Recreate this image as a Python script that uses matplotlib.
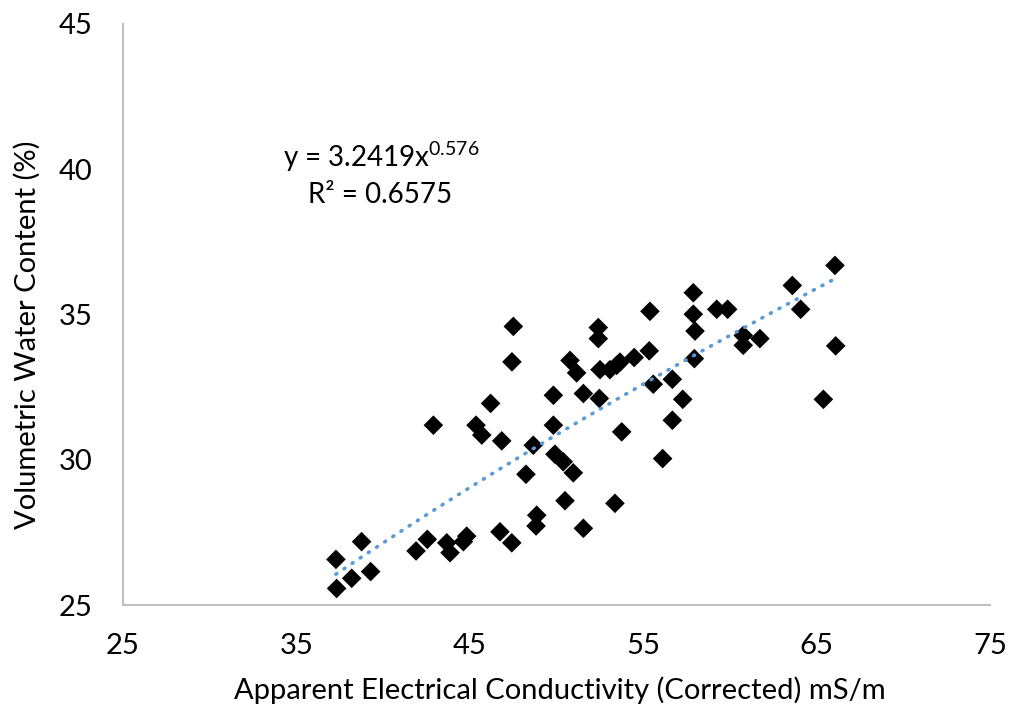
import numpy as np
import matplotlib
matplotlib.use("Agg")
import matplotlib.pyplot as plt

ec = [37.32, 37.28, 38.19, 38.76, 39.28, 41.90, 42.55, 42.90, 43.67, 43.86,
      44.63, 44.82, 45.36, 45.69, 46.20, 46.74, 46.84, 47.42, 47.43, 47.51,
      48.24, 48.66, 48.86, 48.82, 49.82, 49.82, 49.91, 50.39, 50.49, 50.78,
      50.97, 51.16, 51.55, 51.55, 52.41, 52.41, 52.47, 52.51, 53.08, 53.47,
      53.66, 53.37, 53.76, 54.48, 55.39, 55.35, 55.58, 56.12, 56.68, 56.68,
      57.28, 57.89, 57.89, 57.99, 57.95, 59.24, 59.87, 60.77, 60.77, 61.73,
      63.60, 64.08, 65.39, 66.06, 66.10]
vwc = [25.57, 26.57, 25.92, 27.18, 26.15, 26.86, 27.26, 31.19, 27.14, 26.80,
       27.18, 27.37, 31.19, 30.85, 31.94, 27.52, 30.65, 27.14, 33.37, 34.59,
       29.50, 30.50, 28.09, 27.72, 32.22, 31.19, 30.19, 29.93, 28.59, 33.42,
       29.55, 32.99, 32.28, 27.64, 34.55, 34.17, 32.11, 33.10, 33.10, 33.25,
       33.36, 28.50, 30.96, 33.52, 35.11, 33.75, 32.60, 30.04, 32.77, 31.36,
       32.08, 35.75, 35.01, 34.43, 33.48, 35.18, 35.18, 34.28, 33.94, 34.17,
       36.00, 35.18, 32.08, 36.69, 33.92]

fit_a = 3.2419
fit_b = 0.576
x_ticks = [25, 35, 45, 55, 65, 75]
y_ticks = [25, 30, 35, 40, 45]

plt.rcParams['font.family'] = ['Lato', 'DejaVu Sans']

fig = plt.figure(figsize=(10.13, 7.13), dpi=100)
ax = fig.add_axes([123/1013, 1 - 605/713, (990-123)/1013, (605-24)/713])

xs = np.linspace(min(ec), max(ec), 200)
ax.plot(xs, fit_a * xs ** fit_b, color='#5B9BD5', linewidth=2.6,
        linestyle=(0, (0.3, 2.4)), dash_capstyle='round', zorder=3)
ax.scatter(ec, vwc, marker='D', s=100, color='black', edgecolors='none', zorder=2)

ax.set_xlim(25, 75)
ax.set_ylim(25, 45)
ax.set_xticks(x_ticks)
ax.set_yticks(y_ticks)
ax.tick_params(length=0, labelsize=21, colors='black')
ax.tick_params(axis='x', pad=20)
ax.tick_params(axis='y', pad=22)
for s in ['top', 'right']:
    ax.spines[s].set_visible(False)
for s in ['left', 'bottom']:
    ax.spines[s].set_color('#BFBFBF')
    ax.spines[s].set_linewidth(1.5)

fig.text(560/1013, 1 - 690/713, 'Apparent Electrical Conductivity (Corrected) mS/m',
         fontsize=21, ha='center', va='center')
fig.text(27/1013, 1 - 335/713, 'Volumetric Water Content (%)', fontsize=21,
         ha='center', va='center', rotation=90)

fig.text(381/1013, 1 - 157/713, r'y = 3.2419x$^{\mathregular{0.576}}$', fontsize=20,
         ha='center', va='center')
fig.text(380/1013, 1 - 195/713, 'R² = 0.6575', fontsize=20, ha='center', va='center')

fig.savefig('out.png', dpi=100)
